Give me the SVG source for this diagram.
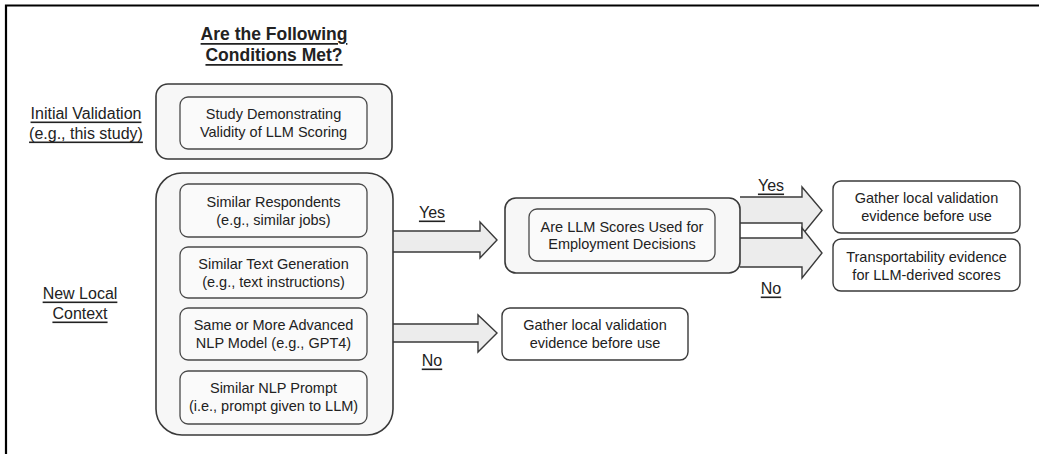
<svg xmlns="http://www.w3.org/2000/svg" width="1039" height="454" viewBox="0 0 1039 454">
<style>
text{font-family:"Liberation Sans",Arial,sans-serif;fill:#222;text-anchor:middle;dominant-baseline:central}
.t{font-size:14.5px}
.lab{font-size:16px;text-decoration:underline}
.title{font-size:17.5px;font-weight:bold;text-decoration:underline}
.outer{fill:#f7f7f7;stroke:#3a3a3a;stroke-width:1.6}
.inner{fill:#fafafa;stroke:#4a4a4a;stroke-width:1.3}
.box{fill:#fff;stroke:#3a3a3a;stroke-width:1.4}
.arrow{fill:#ececec;stroke:#3a3a3a;stroke-width:1.4;stroke-linejoin:miter}
</style>
<rect width="1039" height="454" fill="#fff"/>
<path d="M6 454 V5.5 H1039" fill="none" stroke="#000" stroke-width="2.2"/>

<g id="title">
<text class="title" x="274" y="34">Are the Following</text>
<text class="title" x="274" y="55">Conditions Met?</text>
</g>
<g id="label-initial">
<text class="lab" x="86" y="113">Initial Validation</text>
<text class="lab" x="86" y="133">(e.g., this study)</text>
</g>
<g id="label-local">
<text class="lab" x="80" y="293">New Local</text>
<text class="lab" x="80" y="313">Context</text>
</g>

<g id="connectors">
<path class="arrow" d="M392 231 H480 V222 L497 240 L480 258 V252 H392"/>
<path class="arrow" d="M392 324 H478 V315 L497 333 L478 352 V342 H392"/>
<path class="arrow" d="M740 197 H802 V187 L822 210.5 L802 235 V223 H740"/>
<path class="arrow" d="M740 238 H802 V228 L822 253 L802 278 V267 H740"/>
<text class="lab" x="432" y="212">Yes</text>
<text class="lab" x="432" y="360">No</text>
<text class="lab" x="771" y="185">Yes</text>
<text class="lab" x="771" y="288">No</text>
</g>

<g id="initial-validation">
<rect class="outer" x="156" y="84" width="236" height="75" rx="12"/>
<g id="study">
<rect class="inner" x="180" y="97" width="187" height="52" rx="8"/>
<text class="t" x="273.5" y="114">Study Demonstrating</text>
<text class="t" x="273.5" y="132">Validity of LLM Scoring</text>
</g>
</g>

<g id="new-local-context">
<rect class="outer" x="156" y="173" width="237" height="262" rx="26"/>
<g id="respondents">
<rect class="inner" x="180" y="184" width="187" height="53" rx="8"/>
<text class="t" x="273.5" y="202">Similar Respondents</text>
<text class="t" x="273.5" y="220">(e.g., similar jobs)</text>
</g>
<g id="text-generation">
<rect class="inner" x="180" y="247" width="187" height="51" rx="8"/>
<text class="t" x="273.5" y="264">Similar Text Generation</text>
<text class="t" x="273.5" y="282">(e.g., text instructions)</text>
</g>
<g id="nlp-model">
<rect class="inner" x="180" y="308" width="187" height="52" rx="8"/>
<text class="t" x="273.5" y="325">Same or More Advanced</text>
<text class="t" x="273.5" y="343">NLP Model (e.g., GPT4)</text>
</g>
<g id="nlp-prompt">
<rect class="inner" x="180" y="371" width="187" height="53" rx="8"/>
<text class="t" x="273.5" y="388">Similar NLP Prompt</text>
<text class="t" x="273.5" y="406">(i.e., prompt given to LLM)</text>
</g>
</g>

<g id="employment-decisions">
<rect class="outer" x="505" y="198" width="235" height="75" rx="11"/>
<rect class="inner" x="529" y="209" width="186" height="52" rx="8"/>
<text class="t" x="622" y="227">Are LLM Scores Used for</text>
<text class="t" x="622" y="244">Employment Decisions</text>
</g>

<g id="gather-local-1">
<rect class="box" x="502" y="308" width="186" height="52" rx="8"/>
<text class="t" x="595" y="325">Gather local validation</text>
<text class="t" x="595" y="343">evidence before use</text>
</g>

<g id="gather-local-2">
<rect class="box" x="833" y="181" width="187" height="52" rx="8"/>
<text class="t" x="926.5" y="198">Gather local validation</text>
<text class="t" x="926.5" y="216">evidence before use</text>
</g>

<g id="transportability">
<rect class="box" x="833" y="239" width="187" height="52" rx="8"/>
<text class="t" x="926.5" y="257">Transportability evidence</text>
<text class="t" x="926.5" y="275">for LLM-derived scores</text>
</g>
</svg>
